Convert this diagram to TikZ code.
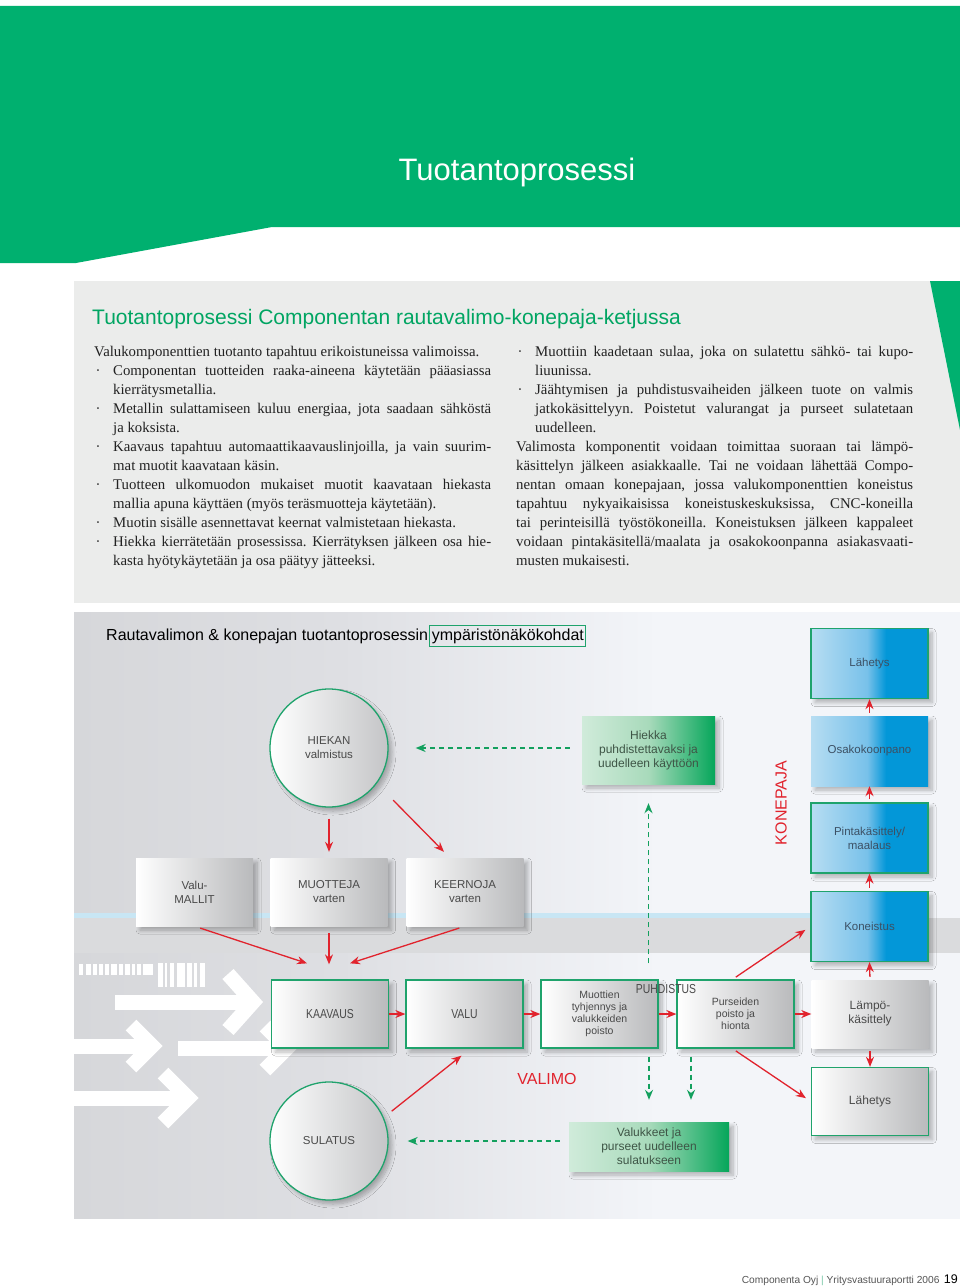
\documentclass[tikz,border=0pt]{standalone}
\usepackage{fontspec}
\setmainfont{Liberation Serif}
\setsansfont{Liberation Sans}
\newfontfamily\narrowsf[FakeStretch=0.8]{Liberation Sans}
\usetikzlibrary{arrows.meta, positioning, shadows.blur, calc}
\definecolor{pagegreen}{HTML}{00B06F}
\definecolor{headgreen}{HTML}{00A562}
\definecolor{panelgrey}{HTML}{EBECEB}
\definecolor{linegreen}{HTML}{1FA36C}
\definecolor{flowred}{HTML}{E1232D}
\definecolor{backgreen}{HTML}{13A05E}
\definecolor{labelgrey}{HTML}{4A4A4A}
\definecolor{labelblue}{HTML}{3C5064}
\definecolor{labelgreen}{HTML}{3E5546}
\definecolor{boxgrey}{HTML}{B9BABC}
\definecolor{circgrey}{HTML}{C4C5C7}
\definecolor{bodyink}{HTML}{222222}
\definecolor{stripblue}{HTML}{C8E6F4}
\definecolor{bandgrey}{HTML}{DADBDD}
\definecolor{blueA}{HTML}{B7DDF2}
\definecolor{blueB}{HTML}{78C1EA}
\definecolor{blueC}{HTML}{0397D8}
\definecolor{greenA}{HTML}{D0EBDA}
\definecolor{greenB}{HTML}{A8DABB}
\definecolor{greenC}{HTML}{05A65A}
\definecolor{bgleft}{HTML}{D6D7DA}
\definecolor{bgmid}{HTML}{DEDFE3}
\definecolor{bgright}{HTML}{F3F5F9}
\definecolor{footgrey}{HTML}{555555}
\pgfdeclarehorizontalshading{blueramp}{100bp}{color(0bp)=(blueA); color(25bp)=(blueA); color(49bp)=(blueB); color(57bp)=(blueC); color(100bp)=(blueC)}
\pgfdeclarehorizontalshading{greenramp}{100bp}{color(0bp)=(greenA); color(25bp)=(greenA); color(50bp)=(greenB); color(75bp)=(greenC); color(100bp)=(greenC)}
\pgfdeclarehorizontalshading{panelramp}{100bp}{color(0bp)=(bgleft); color(25bp)=(bgleft); color(40bp)=(bgmid); color(58bp)=(bgright); color(100bp)=(bgright)}
\newcommand\dotfirst{\hangindent=19pt\hangafter=1\noindent\makebox[19pt][l]{\hspace{1.5pt}·}}
\newcommand\dotitem{\par\dotfirst}

\begin{document}
\begin{tikzpicture}[
    x=1pt, y=-1pt,
    >=Stealth,
    softshadow/.style={blur shadow={shadow xshift=4pt, shadow yshift=-4pt, shadow blur radius=4pt, shadow blur steps=8, shadow opacity=28}},
    stage/.style={circle, minimum size=118pt, inner sep=0pt, draw=linegreen, line width=1.3pt, left color=white, right color=circgrey, softshadow, font=\sffamily\fontsize{11.5}{14}\selectfont, text=labelgrey, align=center},
    plainbox/.style={rectangle, minimum width=117pt, minimum height=68pt, inner sep=2pt, left color=white, right color=boxgrey, softshadow, font=\sffamily\fontsize{11.5}{14}\selectfont, text=labelgrey, align=center},
    stepbox/.style={plainbox, draw=linegreen, line width=1.3pt},
    bluebox/.style={plainbox, minimum height=70pt, shading=blueramp, shading angle=0, text=labelblue},
    bluestep/.style={bluebox, draw=linegreen, line width=1.3pt},
    reusebox/.style={plainbox, shading=greenramp, shading angle=0, text=labelgreen, font=\sffamily\fontsize{12}{14}\selectfont},
    flow/.style={->, >={Stealth[length=10pt, width=8pt]}, line width=1.3pt, draw=flowred},
    back/.style={->, >={Stealth[length=10pt, width=8pt]}, line width=1.4pt, draw=backgreen, dash pattern=on 5pt off 4pt},
    zonelbl/.style={font=\sffamily\fontsize{16}{18}\selectfont, text=flowred},
    chevron/.style={draw=white, line width=15pt, line join=miter},
    bodytext/.style={anchor=north west, inner sep=0pt, text width=397pt, align=justify, font=\fontsize{14.8}{19}\selectfont, text=bodyink},
]
\useasboundingbox (0,0) rectangle (960,1287);
\fill[white] (0,0) rectangle (960,1287);

% Page header
\fill[pagegreen] (0,6) -- (960,6) -- (960,227) -- (272,227) -- (76,263) -- (0,263) -- cycle;
\node[font=\sffamily\fontsize{31}{36}\selectfont, text=white, anchor=base] (pagetitle) at (517,180) {Tuotantoprosessi};

% Text panel
\fill[panelgrey] (74,281) rectangle (960,603);
\fill[pagegreen] (930,281) -- (960,281) -- (960,430) -- cycle;
\node[font=\sffamily\fontsize{21}{24}\selectfont, text=headgreen, anchor=base west, inner sep=0pt] (subtitle) at (92,324) {Tuotantoprosessi Componentan rautavalimo-konepaja-ketjussa};

\node[bodytext] (leftcol) at (94,346) {\hyphenpenalty=10000 \exhyphenpenalty=10000 \tolerance=9999 \frenchspacing
  \noindent Valukomponenttien tuotanto tapahtuu erikoistuneissa valimoissa.
  \dotitem Componentan tuotteiden raaka-aineena käytetään pääasiassa\linebreak kierrätysmetallia.
  \dotitem Metallin sulattamiseen kuluu energiaa, jota saadaan sähköstä\linebreak ja koksista.
  \dotitem Kaavaus tapahtuu automaattikaavauslinjoilla, ja vain suurim-\linebreak mat muotit kaavataan käsin.
  \dotitem Tuotteen ulkomuodon mukaiset muotit kaavataan hiekasta\linebreak mallia apuna käyttäen (myös teräsmuotteja käytetään).
  \dotitem Muotin sisälle asennettavat keernat valmistetaan hiekasta.
  \dotitem Hiekka kierrätetään prosessissa. Kierrätyksen jälkeen osa hie-\linebreak kasta hyötykäytetään ja osa päätyy jätteeksi.\par};

\node[bodytext] (rightcol) at (516,346) {\hyphenpenalty=10000 \exhyphenpenalty=10000 \tolerance=9999 \frenchspacing
  \dotfirst Muottiin kaadetaan sulaa, joka on sulatettu sähkö- tai kupo-\linebreak liuunissa.
  \dotitem Jäähtymisen ja puhdistusvaiheiden jälkeen tuote on valmis\linebreak jatkokäsittelyyn. Poistetut valurangat ja purseet sulatetaan\linebreak uudelleen.
  \par\noindent Valimosta komponentit voidaan toimittaa suoraan tai lämpö-\linebreak käsittelyn jälkeen asiakkaalle. Tai ne voidaan lähettää Compo-\linebreak nentan omaan konepajaan, jossa valukomponenttien koneistus\linebreak tapahtuu nykyaikaisissa koneistuskeskuksissa, CNC-koneilla\linebreak tai perinteisillä työstökoneilla. Koneistuksen jälkeen kappaleet\linebreak voidaan pintakäsitellä/maalata ja osakokoonpanna asiakasvaati-\linebreak musten mukaisesti.\par};

% Diagram background
\shade[shading=panelramp] (74,612) rectangle (960,918);
\fill[bandgrey] (74,918) rectangle (960,953);
\shade[shading=panelramp] (74,953) rectangle (960,1218);
\fill[stripblue] (74,913) rectangle (810,918);

% Bar marks and white arrows
\foreach \a/\b in {79/83, 86/91, 93/97, 99/103, 105/109, 111/117, 119/123, 125/130, 132/135, 137/141, 143/153}
  \fill[white] (\a,964) rectangle (\b,975);
\foreach \a/\b in {158/163, 165/167, 170/174, 177/185, 187/192, 194/197, 200/205}
  \fill[white] (\a,963) rectangle (\b,987);
\draw[chevron] (115,1002) -- (245,1002);
\draw[chevron] (228,974) -- (253,1002) -- (228,1030);
\draw[chevron] (74,1046) -- (146,1046);
\draw[chevron] (131,1025) -- (152,1046) -- (131,1067);
\draw[chevron] (178,1048) -- (275,1048);
\draw[chevron] (265,1026) -- (287,1048) -- (265,1070);
\draw[chevron] (74,1098) -- (180,1098);
\draw[chevron] (163,1073) -- (188,1098) -- (163,1123);

% Diagram title
\node[font=\sffamily\fontsize{16}{18}\selectfont, anchor=base west, inner sep=0pt] (dtitle) at (106,640) {Rautavalimon \& konepajan tuotantoprosessin};
\node[font=\sffamily\fontsize{16}{18}\selectfont, anchor=base west, draw=linegreen, line width=0.8pt, inner xsep=2pt, inner ysep=3.5pt] (envword) at ([xshift=1pt]dtitle.base east) {ympäristönäkökohdat};

% Valimo: sand, patterns, moulds, cores
\node[stage] (hiekan) at (329,748) {HIEKAN\\valmistus};
\node[plainbox] (valumallit) at (194.5,892) {Valu-\\MALLIT};
\node[plainbox] (muotteja) at (329,892) {MUOTTEJA\\varten};
\node[plainbox] (keernoja) at (465,892) {KEERNOJA\\varten};
\node[reusebox, minimum width=133pt] (hiekka) at (648.5,750) {Hiekka\\puhdistettavaksi ja\\uudelleen käyttöön};

% Valimo: main line
\node[stepbox, font=\narrowsf\fontsize{13}{14}\selectfont] (kaavaus) at (330,1014) {KAAVAUS};
\node[stepbox, font=\narrowsf\fontsize{13}{14}\selectfont] (valu) at (464.5,1014) {VALU};
\node[stepbox, font=\sffamily\fontsize{10.5}{12}\selectfont] (muottien) at (599.5,1014) {Muottien\\tyhjennys ja\\valukkeiden\\poisto};
\node[stepbox, font=\sffamily\fontsize{10.5}{12}\selectfont] (purseiden) at (735.5,1014) {Purseiden\\poisto ja\\hionta};
\node[plainbox, font=\sffamily\fontsize{12}{14}\selectfont] (lampo) at (870,1014) {Lämpö-\\käsittely};
\node[stepbox, font=\sffamily\fontsize{12}{14}\selectfont] (lahetysb) at (870,1101.5) {Lähetys};
\node[stage] (sulatus) at (329,1141) {SULATUS};
\node[reusebox, minimum width=160pt, minimum height=49pt] (valukkeet) at (649,1146.5) {Valukkeet ja\\purseet uudelleen\\sulatukseen};

% Konepaja column
\node[bluestep] (lahetyst) at (869.5,663.5) {Lähetys};
\node[bluebox] (osako) at (869.5,751) {Osakokoonpano};
\node[bluestep] (pinta) at (869.5,838) {Pintakäsittely/\\maalaus};
\node[bluestep] (koneistus) at (869.5,926.5) {Koneistus};

% Labels
\node[zonelbl, rotate=90] (konepaja) at (781,803) {KONEPAJA};
\node[zonelbl] (valimo) at (547,1079) {VALIMO};
\node[font=\narrowsf\fontsize{13}{14}\selectfont, text=labelgrey] (puhdistus) at (666,989) {PUHDISTUS};

% Red flow arrows
\draw[flow, shorten <=11pt, shorten >=6pt] (hiekan.south) -- (muotteja.north);
\draw[flow] ([shift={(22,10)}]hiekan.-45) -- ([shift={(-21,-6)}]keernoja.north);
\draw[flow, shorten <=6pt] (valumallit.south) -- ([shift={(-23,-16)}]kaavaus.north);
\draw[flow, shorten <=7pt, shorten >=15pt] (muotteja.south) -- (muotteja.south |- kaavaus.north);
\draw[flow, shorten <=6pt] (keernoja.south) -- ([shift={(20,-16)}]kaavaus.north);
\draw[flow] (kaavaus) -- (valu);
\draw[flow] (valu) -- (muottien);
\draw[flow] (muottien) -- (purseiden);
\draw[flow] (purseiden) -- (lampo);
\draw[flow] ([xshift=11pt]sulatus.30) -- ([shift={(-3,7)}]valu.south);
\draw[flow, shorten <=4pt, shorten >=6pt] ([xshift=-3pt]purseiden.north) -- (koneistus.west);
\draw[flow, shorten <=4pt, shorten >=6pt] ([xshift=-3pt]purseiden.south) -- (lahetysb.west);
\draw[flow, shorten <=3pt] (lampo.north) -- (koneistus.south);
\draw[flow, shorten <=3pt] (koneistus.north) -- (pinta.south);
\draw[flow, shorten <=3pt] (pinta.north) -- (osako.south);
\draw[flow, shorten <=3pt] (osako.north) -- (lahetyst.south);
\draw[flow, shorten <=3pt] (lampo.south) -- (lahetysb.north);

% Green return flows
\coordinate (dropB) at ([xshift=42pt]valukkeet.north);
\draw[back, shorten <=12pt, shorten >=27pt] (hiekka.west |- hiekan.east) -- (hiekan.east);
\draw[back, shorten <=16pt, shorten >=19pt] (hiekka.south |- muottien.north) -- (hiekka.south);
\draw[back, shorten <=8pt, shorten >=22pt] (valukkeet.north |- muottien.south) -- (valukkeet.north);
\draw[back, shorten <=8pt, shorten >=22pt] (dropB |- purseiden.south) -- (dropB);
\draw[back, shorten <=9pt, shorten >=19pt] (valukkeet.west |- sulatus.east) -- (sulatus.east);

% Footer
\node[font=\sffamily\fontsize{12.5}{14}\selectfont, anchor=base east, inner sep=0pt] (pageno) at (958,1283) {19};
\node[font=\sffamily\fontsize{10.2}{12}\selectfont, text=footgrey, anchor=base east, inner sep=0pt] (footer) at ([xshift=-4pt]pageno.base west) {Componenta Oyj {\color{linegreen!60}|} Yritysvastuuraportti 2006};

\end{tikzpicture}
\end{document}
